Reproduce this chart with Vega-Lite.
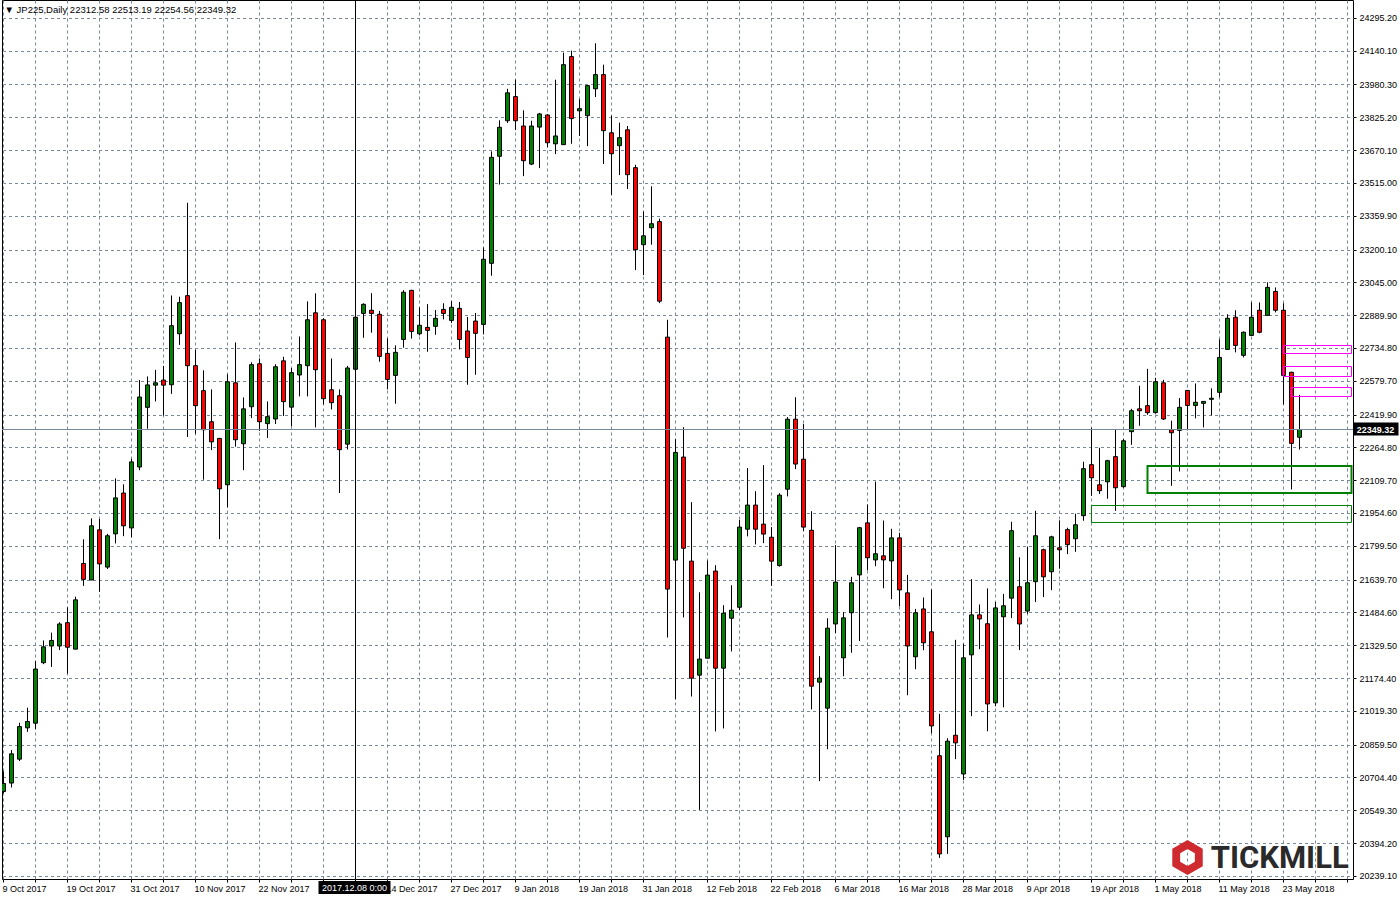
{
  "$schema": "https://vega.github.io/schema/vega-lite/v6.json",
  "width": 1351,
  "height": 879,
  "autosize": {"type": "none"},
  "padding": {"left": 2, "top": 0, "right": 47, "bottom": 21},
  "background": "white",
  "config": {
    "view": {"stroke": "black", "strokeWidth": 1},
    "axis": {"labelFont": "Liberation Sans", "labelFontSize": 9, "labelColor": "black", "title": null, "domain": false, "tickColor": "black", "tickSize": 3, "grid": true, "gridColor": "#778899", "gridDash": [3, 3], "gridWidth": 1, "gridOpacity": 1, "labelOverlap": false, "labelFlush": false, "labelBound": false, "zindex": 0}
  },
  "datasets": {
    "ohlc": [
      {"d":"2017-10-09","o":20638,"h":20734,"l":20630,"c":20676},
      {"d":"2017-10-10","o":20678,"h":20834,"l":20657,"c":20816},
      {"d":"2017-10-11","o":20791,"h":20963,"l":20782,"c":20945},
      {"d":"2017-10-12","o":20939,"h":21034,"l":20920,"c":20969},
      {"d":"2017-10-13","o":20961,"h":21255,"l":20933,"c":21217},
      {"d":"2017-10-16","o":21247,"h":21352,"l":21240,"c":21322},
      {"d":"2017-10-17","o":21326,"h":21389,"l":21227,"c":21352},
      {"d":"2017-10-18","o":21326,"h":21438,"l":21307,"c":21430},
      {"d":"2017-10-19","o":21436,"h":21509,"l":21195,"c":21320},
      {"d":"2017-10-20","o":21311,"h":21559,"l":21311,"c":21544},
      {"d":"2017-10-23","o":21716,"h":21830,"l":21610,"c":21641},
      {"d":"2017-10-24","o":21638,"h":21929,"l":21638,"c":21894},
      {"d":"2017-10-25","o":21875,"h":21927,"l":21582,"c":21714},
      {"d":"2017-10-26","o":21699,"h":21856,"l":21690,"c":21847},
      {"d":"2017-10-27","o":21856,"h":22118,"l":21811,"c":22026},
      {"d":"2017-10-30","o":22049,"h":22090,"l":21845,"c":21894},
      {"d":"2017-10-31","o":21884,"h":22211,"l":21839,"c":22196},
      {"d":"2017-11-01","o":22172,"h":22583,"l":22157,"c":22503},
      {"d":"2017-11-02","o":22454,"h":22600,"l":22353,"c":22560},
      {"d":"2017-11-03","o":22559,"h":22631,"l":22482,"c":22570},
      {"d":"2017-11-06","o":22583,"h":22650,"l":22415,"c":22559},
      {"d":"2017-11-07","o":22561,"h":22983,"l":22518,"c":22840},
      {"d":"2017-11-08","o":22802,"h":22977,"l":22749,"c":22949},
      {"d":"2017-11-09","o":22982,"h":23421,"l":22314,"c":22651},
      {"d":"2017-11-10","o":22651,"h":22726,"l":22329,"c":22462},
      {"d":"2017-11-13","o":22533,"h":22629,"l":22112,"c":22348},
      {"d":"2017-11-14","o":22386,"h":22539,"l":22252,"c":22291},
      {"d":"2017-11-15","o":22307,"h":22310,"l":21831,"c":22069},
      {"d":"2017-11-16","o":22088,"h":22610,"l":21981,"c":22575},
      {"d":"2017-11-17","o":22570,"h":22761,"l":22268,"c":22301},
      {"d":"2017-11-20","o":22282,"h":22501,"l":22157,"c":22447},
      {"d":"2017-11-21","o":22457,"h":22667,"l":22403,"c":22656},
      {"d":"2017-11-22","o":22660,"h":22685,"l":22343,"c":22386},
      {"d":"2017-11-23","o":22377,"h":22482,"l":22309,"c":22410},
      {"d":"2017-11-24","o":22399,"h":22658,"l":22375,"c":22646},
      {"d":"2017-11-27","o":22674,"h":22693,"l":22413,"c":22481},
      {"d":"2017-11-28","o":22455,"h":22640,"l":22364,"c":22618},
      {"d":"2017-11-29","o":22607,"h":22789,"l":22506,"c":22656},
      {"d":"2017-11-30","o":22651,"h":22955,"l":22506,"c":22868},
      {"d":"2017-12-01","o":22901,"h":22993,"l":22359,"c":22632},
      {"d":"2017-12-04","o":22868,"h":22875,"l":22468,"c":22495},
      {"d":"2017-12-05","o":22537,"h":22685,"l":22444,"c":22476},
      {"d":"2017-12-06","o":22509,"h":22539,"l":22049,"c":22254},
      {"d":"2017-12-07","o":22280,"h":22650,"l":22255,"c":22640},
      {"d":"2017-12-08","o":22634,"h":22900,"l":22620,"c":22880},
      {"d":"2017-12-11","o":22898,"h":22946,"l":22783,"c":22941},
      {"d":"2017-12-12","o":22913,"h":22994,"l":22807,"c":22898},
      {"d":"2017-12-13","o":22894,"h":22910,"l":22670,"c":22695},
      {"d":"2017-12-14","o":22709,"h":22780,"l":22539,"c":22586},
      {"d":"2017-12-15","o":22605,"h":22747,"l":22471,"c":22714},
      {"d":"2017-12-18","o":22775,"h":23008,"l":22736,"c":22998},
      {"d":"2017-12-19","o":23007,"h":23010,"l":22779,"c":22813},
      {"d":"2017-12-20","o":22802,"h":22927,"l":22794,"c":22842},
      {"d":"2017-12-21","o":22832,"h":22942,"l":22717,"c":22818},
      {"d":"2017-12-22","o":22837,"h":22914,"l":22797,"c":22875},
      {"d":"2017-12-26","o":22917,"h":22946,"l":22870,"c":22898},
      {"d":"2017-12-27","o":22865,"h":22957,"l":22853,"c":22927},
      {"d":"2017-12-28","o":22922,"h":22952,"l":22728,"c":22775},
      {"d":"2017-12-29","o":22815,"h":22881,"l":22561,"c":22690},
      {"d":"2018-01-02","o":22862,"h":22900,"l":22608,"c":22804},
      {"d":"2018-01-03","o":22846,"h":23210,"l":22799,"c":23154},
      {"d":"2018-01-04","o":23135,"h":23664,"l":23076,"c":23636},
      {"d":"2018-01-05","o":23641,"h":23811,"l":23507,"c":23778},
      {"d":"2018-01-08","o":23809,"h":23960,"l":23798,"c":23941},
      {"d":"2018-01-09","o":23923,"h":24003,"l":23765,"c":23809},
      {"d":"2018-01-10","o":23784,"h":23858,"l":23547,"c":23620},
      {"d":"2018-01-11","o":23604,"h":23809,"l":23599,"c":23784},
      {"d":"2018-01-12","o":23779,"h":23846,"l":23585,"c":23841},
      {"d":"2018-01-15","o":23836,"h":23840,"l":23683,"c":23705},
      {"d":"2018-01-16","o":23700,"h":24003,"l":23651,"c":23737},
      {"d":"2018-01-17","o":23696,"h":24131,"l":23696,"c":24074},
      {"d":"2018-01-18","o":24112,"h":24140,"l":23700,"c":23819},
      {"d":"2018-01-19","o":23856,"h":23911,"l":23737,"c":23866},
      {"d":"2018-01-22","o":23833,"h":23975,"l":23689,"c":23975},
      {"d":"2018-01-23","o":23960,"h":24175,"l":23921,"c":24027},
      {"d":"2018-01-24","o":24027,"h":24074,"l":23604,"c":23762},
      {"d":"2018-01-25","o":23752,"h":23833,"l":23458,"c":23653},
      {"d":"2018-01-26","o":23691,"h":23800,"l":23552,"c":23729},
      {"d":"2018-01-29","o":23766,"h":23784,"l":23486,"c":23554},
      {"d":"2018-01-30","o":23587,"h":23601,"l":23103,"c":23199},
      {"d":"2018-01-31","o":23223,"h":23380,"l":23079,"c":23265},
      {"d":"2018-02-01","o":23303,"h":23499,"l":23223,"c":23322},
      {"d":"2018-02-02","o":23332,"h":23346,"l":22947,"c":22956},
      {"d":"2018-02-05","o":22786,"h":22868,"l":21366,"c":21595},
      {"d":"2018-02-06","o":21732,"h":22304,"l":21074,"c":22241},
      {"d":"2018-02-07","o":22219,"h":22360,"l":21461,"c":21788},
      {"d":"2018-02-08","o":21727,"h":22006,"l":21087,"c":21174},
      {"d":"2018-02-09","o":21188,"h":21580,"l":20551,"c":21264},
      {"d":"2018-02-12","o":21268,"h":21730,"l":21268,"c":21661},
      {"d":"2018-02-13","o":21680,"h":21708,"l":20922,"c":21221},
      {"d":"2018-02-14","o":21221,"h":21519,"l":20936,"c":21481},
      {"d":"2018-02-15","o":21457,"h":21613,"l":21300,"c":21495},
      {"d":"2018-02-16","o":21509,"h":21922,"l":21495,"c":21888},
      {"d":"2018-02-19","o":21878,"h":22167,"l":21844,"c":21992},
      {"d":"2018-02-20","o":21992,"h":22058,"l":21806,"c":21878},
      {"d":"2018-02-21","o":21902,"h":22181,"l":21812,"c":21855},
      {"d":"2018-02-22","o":21840,"h":21888,"l":21610,"c":21727},
      {"d":"2018-02-23","o":21706,"h":22048,"l":21701,"c":22039},
      {"d":"2018-02-26","o":22067,"h":22408,"l":22033,"c":22398},
      {"d":"2018-02-27","o":22398,"h":22502,"l":22162,"c":22186},
      {"d":"2018-02-28","o":22209,"h":22375,"l":21869,"c":21888},
      {"d":"2018-03-01","o":21873,"h":21963,"l":21026,"c":21136},
      {"d":"2018-03-02","o":21155,"h":21278,"l":20687,"c":21174},
      {"d":"2018-03-05","o":21032,"h":21457,"l":20838,"c":21410},
      {"d":"2018-03-06","o":21430,"h":21803,"l":21387,"c":21628},
      {"d":"2018-03-07","o":21270,"h":21486,"l":21183,"c":21459},
      {"d":"2018-03-08","o":21483,"h":21653,"l":21294,"c":21625},
      {"d":"2018-03-09","o":21662,"h":21889,"l":21349,"c":21885},
      {"d":"2018-03-12","o":21908,"h":21995,"l":21684,"c":21743},
      {"d":"2018-03-13","o":21733,"h":22103,"l":21703,"c":21762},
      {"d":"2018-03-14","o":21752,"h":21919,"l":21599,"c":21733},
      {"d":"2018-03-15","o":21728,"h":21880,"l":21547,"c":21837},
      {"d":"2018-03-16","o":21837,"h":21861,"l":21514,"c":21591},
      {"d":"2018-03-19","o":21577,"h":21662,"l":21093,"c":21326},
      {"d":"2018-03-20","o":21275,"h":21501,"l":21216,"c":21483},
      {"d":"2018-03-21","o":21501,"h":21555,"l":21306,"c":21341},
      {"d":"2018-03-22","o":21393,"h":21593,"l":20914,"c":20948},
      {"d":"2018-03-23","o":20807,"h":21005,"l":20324,"c":20343},
      {"d":"2018-03-26","o":20424,"h":20890,"l":20343,"c":20876},
      {"d":"2018-03-27","o":20904,"h":21355,"l":20791,"c":20868},
      {"d":"2018-03-28","o":20721,"h":21336,"l":20693,"c":21270},
      {"d":"2018-03-29","o":21284,"h":21642,"l":20994,"c":21473},
      {"d":"2018-03-30","o":21473,"h":21522,"l":21311,"c":21454},
      {"d":"2018-04-02","o":21431,"h":21598,"l":20923,"c":21052},
      {"d":"2018-04-03","o":21057,"h":21534,"l":21041,"c":21506},
      {"d":"2018-04-04","o":21464,"h":21572,"l":21036,"c":21516},
      {"d":"2018-04-05","o":21552,"h":21913,"l":21458,"c":21871},
      {"d":"2018-04-06","o":21606,"h":21745,"l":21307,"c":21430},
      {"d":"2018-04-09","o":21491,"h":21795,"l":21478,"c":21625},
      {"d":"2018-04-10","o":21630,"h":21965,"l":21534,"c":21847},
      {"d":"2018-04-11","o":21781,"h":21786,"l":21557,"c":21653},
      {"d":"2018-04-12","o":21677,"h":21847,"l":21590,"c":21842},
      {"d":"2018-04-13","o":21790,"h":21920,"l":21691,"c":21781},
      {"d":"2018-04-16","o":21876,"h":21885,"l":21760,"c":21805},
      {"d":"2018-04-17","o":21833,"h":21951,"l":21771,"c":21899},
      {"d":"2018-04-18","o":21942,"h":22197,"l":21918,"c":22164},
      {"d":"2018-04-19","o":22183,"h":22358,"l":22036,"c":22121},
      {"d":"2018-04-20","o":22088,"h":22263,"l":22045,"c":22060},
      {"d":"2018-04-23","o":22102,"h":22206,"l":22022,"c":22202},
      {"d":"2018-04-24","o":22221,"h":22348,"l":21965,"c":22074},
      {"d":"2018-04-25","o":22079,"h":22305,"l":22074,"c":22296},
      {"d":"2018-04-26","o":22339,"h":22447,"l":22277,"c":22438},
      {"d":"2018-04-27","o":22447,"h":22556,"l":22367,"c":22438},
      {"d":"2018-04-30","o":22462,"h":22636,"l":22419,"c":22429},
      {"d":"2018-05-01","o":22429,"h":22594,"l":22424,"c":22575},
      {"d":"2018-05-02","o":22570,"h":22584,"l":22394,"c":22399},
      {"d":"2018-05-03","o":22348,"h":22391,"l":22083,"c":22334},
      {"d":"2018-05-04","o":22345,"h":22498,"l":22151,"c":22454},
      {"d":"2018-05-07","o":22534,"h":22536,"l":22345,"c":22463},
      {"d":"2018-05-08","o":22463,"h":22567,"l":22402,"c":22478},
      {"d":"2018-05-09","o":22473,"h":22484,"l":22359,"c":22482},
      {"d":"2018-05-10","o":22492,"h":22544,"l":22416,"c":22497},
      {"d":"2018-05-11","o":22525,"h":22776,"l":22501,"c":22690},
      {"d":"2018-05-14","o":22728,"h":22894,"l":22728,"c":22875},
      {"d":"2018-05-15","o":22880,"h":22913,"l":22714,"c":22747},
      {"d":"2018-05-16","o":22700,"h":22813,"l":22690,"c":22809},
      {"d":"2018-05-17","o":22794,"h":22950,"l":22794,"c":22880},
      {"d":"2018-05-18","o":22913,"h":22950,"l":22804,"c":22809},
      {"d":"2018-05-21","o":22889,"h":23045,"l":22889,"c":23021},
      {"d":"2018-05-22","o":23002,"h":23021,"l":22903,"c":22913},
      {"d":"2018-05-23","o":22913,"h":22946,"l":22468,"c":22605},
      {"d":"2018-05-24","o":22620,"h":22622,"l":22066,"c":22284},
      {"d":"2018-05-25","o":22312.58,"h":22513.19,"l":22254.56,"c":22349.32}
    ],
    "resistance": [
      {"from":"2018-05-23","lo":22708.6,"hi":22746.4},
      {"from":"2018-05-23","lo":22599.9,"hi":22647.1},
      {"from":"2018-05-24","lo":22505.4,"hi":22547.9}
    ],
    "supportMain": [
      {"from":"2018-04-30","lo":22049.2,"hi":22176.8}
    ],
    "supportLow": [
      {"from":"2018-04-19","lo":21909.8,"hi":21990.1}
    ],
    "one": [{}]
  },
  "layer": [
    {
      "data": {"name": "ohlc"},
      "mark": {"type": "rule", "color": "black", "strokeWidth": 1, "clip": true},
      "encoding": {
        "x": {
          "field": "d", "type": "ordinal",
          "scale": {
            "domain": ["2017-10-09","2017-10-10","2017-10-11","2017-10-12","2017-10-13","2017-10-16","2017-10-17","2017-10-18","2017-10-19","2017-10-20","2017-10-23","2017-10-24","2017-10-25","2017-10-26","2017-10-27","2017-10-30","2017-10-31","2017-11-01","2017-11-02","2017-11-03","2017-11-06","2017-11-07","2017-11-08","2017-11-09","2017-11-10","2017-11-13","2017-11-14","2017-11-15","2017-11-16","2017-11-17","2017-11-20","2017-11-21","2017-11-22","2017-11-23","2017-11-24","2017-11-27","2017-11-28","2017-11-29","2017-11-30","2017-12-01","2017-12-04","2017-12-05","2017-12-06","2017-12-07","2017-12-08","2017-12-11","2017-12-12","2017-12-13","2017-12-14","2017-12-15","2017-12-18","2017-12-19","2017-12-20","2017-12-21","2017-12-22","2017-12-26","2017-12-27","2017-12-28","2017-12-29","2018-01-02","2018-01-03","2018-01-04","2018-01-05","2018-01-08","2018-01-09","2018-01-10","2018-01-11","2018-01-12","2018-01-15","2018-01-16","2018-01-17","2018-01-18","2018-01-19","2018-01-22","2018-01-23","2018-01-24","2018-01-25","2018-01-26","2018-01-29","2018-01-30","2018-01-31","2018-02-01","2018-02-02","2018-02-05","2018-02-06","2018-02-07","2018-02-08","2018-02-09","2018-02-12","2018-02-13","2018-02-14","2018-02-15","2018-02-16","2018-02-19","2018-02-20","2018-02-21","2018-02-22","2018-02-23","2018-02-26","2018-02-27","2018-02-28","2018-03-01","2018-03-02","2018-03-05","2018-03-06","2018-03-07","2018-03-08","2018-03-09","2018-03-12","2018-03-13","2018-03-14","2018-03-15","2018-03-16","2018-03-19","2018-03-20","2018-03-21","2018-03-22","2018-03-23","2018-03-26","2018-03-27","2018-03-28","2018-03-29","2018-03-30","2018-04-02","2018-04-03","2018-04-04","2018-04-05","2018-04-06","2018-04-09","2018-04-10","2018-04-11","2018-04-12","2018-04-13","2018-04-16","2018-04-17","2018-04-18","2018-04-19","2018-04-20","2018-04-23","2018-04-24","2018-04-25","2018-04-26","2018-04-27","2018-04-30","2018-05-01","2018-05-02","2018-05-03","2018-05-04","2018-05-07","2018-05-08","2018-05-09","2018-05-10","2018-05-11","2018-05-14","2018-05-15","2018-05-16","2018-05-17","2018-05-18","2018-05-21","2018-05-22","2018-05-23","2018-05-24","2018-05-25","2018-05-28","2018-05-29","2018-05-30","2018-05-31","2018-06-01","2018-06-04"],
            "range": [-2.5, 1349.5],
            "paddingInner": 0, "paddingOuter": 0
          },
          "axis": {
            "orient": "bottom",
            "bandPosition": 0.5,
            "values": ["2017-10-09","2017-10-13","2017-10-19","2017-10-25","2017-10-31","2017-11-06","2017-11-10","2017-11-16","2017-11-22","2017-11-28","2017-12-04","2017-12-08","2017-12-14","2017-12-20","2017-12-27","2018-01-03","2018-01-09","2018-01-15","2018-01-19","2018-01-25","2018-01-31","2018-02-06","2018-02-12","2018-02-16","2018-02-22","2018-02-28","2018-03-06","2018-03-12","2018-03-16","2018-03-22","2018-03-28","2018-04-03","2018-04-09","2018-04-13","2018-04-19","2018-04-25","2018-05-01","2018-05-07","2018-05-11","2018-05-17","2018-05-23","2018-05-29","2018-06-04"],
            "labelExpr": "indexof(['2017-10-09','2017-10-19','2017-10-31','2017-11-10','2017-11-22','2017-12-14','2017-12-27','2018-01-09','2018-01-19','2018-01-31','2018-02-12','2018-02-22','2018-03-06','2018-03-16','2018-03-28','2018-04-09','2018-04-19','2018-05-01','2018-05-11','2018-05-23'], datum.value) >= 0 ? utcFormat(toDate(datum.value), '%-d %b %Y') : ''",
            "labelAngle": 0,
            "labelAlign": "left",
            "labelBaseline": "top",
            "labelOffset": -1,
            "labelPadding": 2,
            "labelOverlap": false
          }
        },
        "y": {
          "field": "l", "type": "quantitative",
          "scale": {"domain": [20224.4, 24379.7], "nice": false, "zero": false},
          "axis": {
            "orient": "right",
            "values": [24295.2,24140.1,23980.3,23825.2,23670.1,23515.0,23359.9,23200.1,23045.0,22889.9,22734.8,22579.7,22419.9,22264.8,22109.7,21954.6,21799.5,21639.7,21484.6,21329.5,21174.4,21019.3,20859.5,20704.4,20549.3,20394.2,20239.1],
            "tickCount": 200,
            "format": ".2f",
            "labelPadding": 3,
            "labelBaseline": "middle",
            "labelOverlap": false,
            "labelFlush": false,
            "labelBound": false
          }
        },
        "y2": {"field": "h"}
      }
    },
    {
      "data": {"name": "ohlc"},
      "mark": {"type": "bar", "width": 4, "stroke": "black", "strokeWidth": 1, "clip": true},
      "encoding": {
        "x": {"field": "d", "type": "ordinal"},
        "y": {"field": "o", "type": "quantitative"},
        "y2": {"field": "c"},
        "fill": {"condition": {"test": "datum.c >= datum.o", "value": "#008000"}, "value": "#ff0000"}
      }
    },
    {
      "data": {"name": "resistance"},
      "mark": {"type": "rect", "filled": false, "color": "#ff00ff", "strokeWidth": 1},
      "encoding": {
        "x": {"field": "from", "type": "ordinal", "bandPosition": 0.5},
        "x2": {"datum": "2018-06-04", "bandPosition": 1},
        "y": {"field": "lo", "type": "quantitative"},
        "y2": {"field": "hi"}
      }
    },
    {
      "data": {"name": "supportMain"},
      "mark": {"type": "rect", "filled": false, "color": "#008000", "strokeWidth": 2},
      "encoding": {
        "x": {"field": "from", "type": "ordinal", "bandPosition": 0.5},
        "x2": {"datum": "2018-06-04", "bandPosition": 1},
        "y": {"field": "lo", "type": "quantitative"},
        "y2": {"field": "hi"}
      }
    },
    {
      "data": {"name": "supportLow"},
      "mark": {"type": "rect", "filled": false, "color": "#008000", "strokeWidth": 1},
      "encoding": {
        "x": {"field": "from", "type": "ordinal", "bandPosition": 0.5},
        "x2": {"datum": "2018-06-04", "bandPosition": 1},
        "y": {"field": "lo", "type": "quantitative"},
        "y2": {"field": "hi"}
      }
    },
    {
      "data": {"name": "one"},
      "mark": {"type": "rule", "color": "#778899", "strokeWidth": 1},
      "encoding": {"y": {"datum": 22349.32, "type": "quantitative"}}
    },
    {
      "data": {"name": "one"},
      "mark": {"type": "rule", "color": "black", "strokeWidth": 1},
      "encoding": {"x": {"datum": "2017-12-08", "type": "ordinal", "bandPosition": 0.5}}
    },
    {
      "data": {"name": "one"},
      "mark": {"type": "text", "font": "Liberation Sans", "fontSize": 9.5, "color": "black", "align": "left", "baseline": "middle", "dx": 5, "dy": 10},
      "encoding": {
        "x": {"datum": "2017-10-09", "type": "ordinal", "bandPosition": 0},
        "y": {"datum": 24379.7, "type": "quantitative"},
        "text": {"value": "▼ JP225,Daily  22312.58 22513.19 22254.56 22349.32"}
      }
    },
    {
      "data": {"name": "one"},
      "mark": {"type": "rect", "color": "black", "clip": false, "xOffset": -37, "x2Offset": 35, "yOffset": 2, "y2Offset": 15},
      "encoding": {
        "x": {"datum": "2017-12-08", "type": "ordinal", "bandPosition": 0.5},
        "x2": {"datum": "2017-12-08", "bandPosition": 0.5},
        "y": {"datum": 20224.4, "type": "quantitative"},
        "y2": {"datum": 20224.4}
      }
    },
    {
      "data": {"name": "one"},
      "mark": {"type": "text", "font": "Liberation Sans", "fontSize": 9, "color": "white", "align": "center", "baseline": "middle", "dx": -1, "dy": 9, "clip": false},
      "encoding": {
        "x": {"datum": "2017-12-08", "type": "ordinal", "bandPosition": 0.5},
        "y": {"datum": 20224.4, "type": "quantitative"},
        "text": {"value": "2017.12.08 0:00"}
      }
    },
    {
      "data": {"name": "one"},
      "mark": {"type": "rect", "color": "black", "clip": false, "xOffset": 1.5, "x2Offset": 47, "yOffset": -7, "y2Offset": 6},
      "encoding": {
        "x": {"datum": "2018-06-04", "type": "ordinal", "bandPosition": 1},
        "x2": {"datum": "2018-06-04", "bandPosition": 1},
        "y": {"datum": 22349.32, "type": "quantitative"},
        "y2": {"datum": 22349.32}
      }
    },
    {
      "data": {"name": "one"},
      "mark": {"type": "text", "font": "Liberation Sans", "fontSize": 9, "fontWeight": "bold", "color": "white", "align": "center", "baseline": "middle", "dx": 24, "clip": false},
      "encoding": {
        "x": {"datum": "2018-06-04", "type": "ordinal", "bandPosition": 1},
        "y": {"datum": 22349.32, "type": "quantitative"},
        "text": {"value": "22349.32"}
      }
    },
    {
      "data": {"name": "one"},
      "mark": {"type": "point", "filled": true, "color": "#cf2a30", "opacity": 1, "size": 1225, "shape": "M0,-1L0.87,-0.5L0.87,0.5L0,1L-0.87,0.5L-0.87,-0.5ZM0,-0.48L-0.42,-0.24L-0.42,0.24L0,0.48L0.42,0.24L0.42,-0.24Z"},
      "encoding": {
        "x": {"datum": "2018-05-07", "type": "ordinal", "bandPosition": 0.5},
        "y": {"datum": 20326.0, "type": "quantitative"}
      }
    },
    {
      "data": {"name": "one"},
      "mark": {"type": "text", "font": "Roboto", "fontSize": 31, "fontWeight": "bold", "color": "#2a2a2a", "align": "left", "baseline": "alphabetic"},
      "encoding": {
        "x": {"datum": "2018-05-10", "type": "ordinal", "bandPosition": 0.4},
        "y": {"datum": 20276.4, "type": "quantitative"},
        "text": {"value": "TICKMILL"}
      }
    }
  ]
}
